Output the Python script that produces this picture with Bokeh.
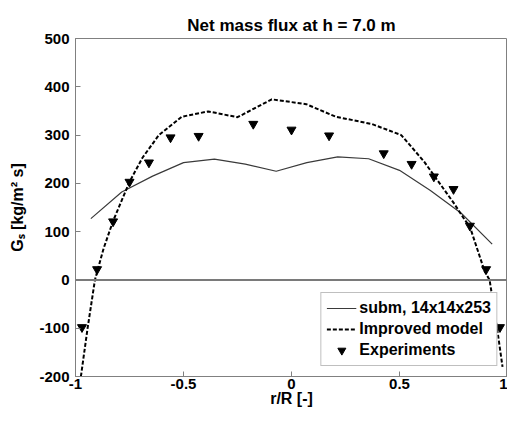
from bokeh.plotting import figure
from bokeh.models import Range1d, Span, Legend, LegendItem, FixedTicker
from bokeh.embed import file_html
from bokeh.resources import INLINE

# ---- data ----
subm_x = [-0.929, -0.786, -0.643, -0.5, -0.357, -0.214, -0.071,
          0.071, 0.214, 0.357, 0.5, 0.643, 0.786, 0.929]
subm_y = [127, 182, 215, 243, 250, 240, 225, 243, 255, 251, 227, 185, 138, 74]

model_x = [-0.975, -0.944, -0.91, -0.87, -0.826, -0.75, -0.69, -0.614, -0.508,
           -0.386, -0.25, -0.091, 0.068, 0.205, 0.371, 0.508, 0.614, 0.75,
           0.80, 0.826, 0.894, 0.917, 0.947, 0.977]
model_y = [-200, -100, 0, 65, 122, 203, 253, 300, 338, 349, 337, 374, 364,
           338, 323, 300, 245, 160, 126, 110, 18, 0, -85, -180]

exp_x = [-0.97, -0.90, -0.826, -0.75, -0.66, -0.56, -0.43, -0.177, 0.0,
         0.174, 0.427, 0.556, 0.659, 0.75, 0.826, 0.901, 0.965]
exp_y = [-98, 22, 121, 203, 243, 295, 298, 323, 311, 299, 262, 240, 214,
         188, 112, 22, -98]

x_ticks = [-1, -0.5, 0, 0.5, 1]
x_tick_labels = ["-1", "-0.5", "0", "0.5", "1"]
y_ticks = [-200, -100, 0, 100, 200, 300, 400, 500]
y_tick_labels = ["-200", "-100", "0", "100", "200", "300", "400", "500"]
zero_level = 0

title_text = "Net mass flux at h = 7.0 m"
x_label = "r/R [-]"
y_label = "G\u209b [kg/m\u00b2 s]"
series_names = ["subm, 14x14x253", "Improved model", "Experiments"]

FONT = "Liberation Sans"
AX = "#808080"

p = figure(width=507, height=409, output_backend="svg", toolbar_location=None,
           x_range=Range1d(-1, 1), y_range=Range1d(-200, 500),
           min_border_left=75, min_border_right=0, min_border_top=38,
           min_border_bottom=0)

p.title.text = title_text
p.title.align = "center"
p.title.text_font = FONT
p.title.text_font_size = "17px"
p.title.text_font_style = "bold"
p.title.text_color = "black"
p.title.standoff = 8

p.xgrid.visible = False
p.ygrid.visible = False
p.outline_line_color = AX
p.outline_line_width = 1
p.outline_line_alpha = 1

for ax in (p.xaxis[0], p.yaxis[0]):
    ax.major_label_text_font = FONT
    ax.major_label_text_font_size = "15px"
    ax.major_label_text_font_style = "bold"
    ax.major_label_text_color = "black"
    ax.axis_label_text_font = FONT
    ax.axis_label_text_font_size = "16px"
    ax.axis_label_text_font_style = "bold"
    ax.axis_label_text_color = "black"
    ax.major_tick_in = 5
    ax.major_tick_out = 0
    ax.minor_tick_in = 0
    ax.minor_tick_out = 0
    ax.axis_line_color = AX
    ax.major_tick_line_color = AX

p.xaxis[0].ticker = FixedTicker(ticks=x_ticks)
p.xaxis[0].major_label_overrides = dict(zip(x_ticks, x_tick_labels))
p.xaxis[0].axis_label = x_label
p.xaxis[0].major_label_standoff = 2
p.xaxis[0].axis_label_standoff = -2

p.yaxis[0].ticker = FixedTicker(ticks=y_ticks)
p.yaxis[0].major_label_overrides = dict(zip(y_ticks, y_tick_labels))
p.yaxis[0].axis_label = y_label
p.yaxis[0].major_label_standoff = 6
p.yaxis[0].axis_label_standoff = 10

p.add_layout(Span(location=zero_level, dimension="width", line_color="#7a7a7a",
                  line_width=2))

r1 = p.line(subm_x, subm_y, line_color="#3a3a3a", line_width=1.2)
r2 = p.line(model_x, model_y, line_color="black", line_width=2, line_dash="4 2")
r3 = p.scatter(exp_x, exp_y, marker="inverted_triangle", size=9,
               fill_color="black", line_color="black")

legend = Legend(items=[LegendItem(label=series_names[0], renderers=[r1]),
                       LegendItem(label=series_names[1], renderers=[r2]),
                       LegendItem(label=series_names[2], renderers=[r3])],
                location="bottom_right")
legend.label_text_font = FONT
legend.label_text_font_size = "16px"
legend.label_text_font_style = "bold"
legend.label_text_color = "black"
legend.glyph_width = 30
legend.glyph_height = 20
legend.label_height = 20
legend.label_standoff = 3
legend.spacing = 1
legend.padding = 5
legend.margin = 10
legend.border_line_color = AX
legend.border_line_width = 1
legend.background_fill_color = "white"
legend.background_fill_alpha = 1
p.add_layout(legend, "center")

open("out.html", "w").write(file_html(p, INLINE))
